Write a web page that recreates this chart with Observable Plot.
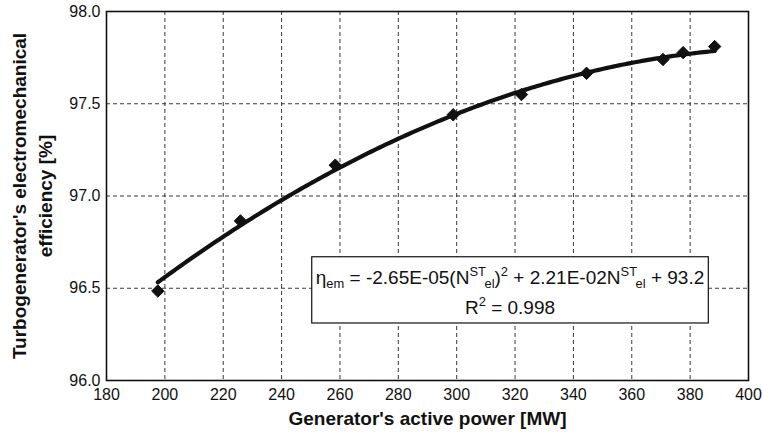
<!DOCTYPE html>
<html>
<head>
<meta charset="utf-8">
<script src="https://cdn.jsdelivr.net/npm/d3@7"></script>
<script src="https://cdn.jsdelivr.net/npm/@observablehq/plot@0.6"></script>
<style>
  body { margin: 0; background: #fff; }
  #chart svg { font-family: "Liberation Sans", Arial, Helvetica, sans-serif; }
</style>
</head>
<body>
<div id="chart"></div>
<script>
// Measured turbogenerator operating points
const powerMW = [197.6, 225.9, 258.4, 298.8, 322.2, 344.5, 370.7, 377.6, 388.4];
const efficiencyPct = [96.485, 96.865, 97.167, 97.44, 97.55, 97.665, 97.74, 97.777, 97.81];

// Axis ticks
const xTicks = [180, 200, 220, 240, 260, 280, 300, 320, 340, 360, 380, 400];
const yTicks = [96.0, 96.5, 97.0, 97.5, 98.0];

// Quadratic trend: eta = a*N^2 + b*N + c
const fitCoefficients = [-2.65e-5, 2.21e-2, 93.2];
const fitR2 = "0.998";

const xTitle = "Generator's active power [MW]";
const yTitle = "Turbogenerator's electromechanical\nefficiency [%]";

const points = powerMW.map((x, i) => ({x, y: efficiencyPct[i]}));

const [a, b, c] = fitCoefficients;
const xMin = d3.min(powerMW), xMax = d3.max(powerMW);
const trend = d3.range(xMin, xMax, 1).concat([xMax]).map(x => ({x, y: a * x * x + b * x + c}));

const gridDash = "4,3";

const chart = Plot.plot({
  width: 762,
  height: 438,
  marginLeft: 106,
  marginRight: 14,
  marginTop: 11,
  marginBottom: 58,
  x: {domain: [180, 400]},
  y: {domain: [96, 98]},
  marks: [
    Plot.gridX(xTicks.slice(1, -1), {stroke: "#222", strokeOpacity: 0.9, strokeDasharray: gridDash, strokeWidth: 1}),
    Plot.gridY(yTicks.slice(1, -1), {stroke: "#222", strokeOpacity: 0.9, strokeDasharray: gridDash, strokeWidth: 1}),
    Plot.axisX(xTicks, {tickSize: 0, tickPadding: 8, fontSize: 16, fill: "#111", label: null, tickFormat: d3.format("d")}),
    Plot.axisY(yTicks, {tickSize: 0, tickPadding: 6, fontSize: 16, fill: "#111", label: null, tickFormat: d3.format(".1f")}),
    Plot.line(trend, {x: "x", y: "y", stroke: "#111", strokeWidth: 4.2, curve: "linear"}),
    Plot.dot(points, {x: "x", y: "y", symbol: "diamond2", r: 5.6, fill: "#111", stroke: "#111", strokeWidth: 1}),
    Plot.frame({stroke: "#111", strokeWidth: 1.6}),
    Plot.text([xTitle], {frameAnchor: "bottom", dy: 38, lineAnchor: "middle", textAnchor: "middle", fontSize: 19, fontWeight: "bold", fill: "#111"}),
    Plot.text([yTitle], {frameAnchor: "left", dx: -76, rotate: -90, textAnchor: "middle", lineAnchor: "middle", fontSize: 19, fontWeight: "bold", fill: "#111", lineHeight: 1.37})
  ]
});

document.getElementById("chart").appendChild(chart);

// Equation box with the fitted trend
const sx = chart.scale("x"), sy = chart.scale("y");
const box = {x1: 250.5, x2: 386.4, y1: 96.668, y2: 96.309};
const svg = d3.select(chart);
const g = svg.append("g").attr("class", "equation");
const bx1 = sx.apply(box.x1), bx2 = sx.apply(box.x2);
const by1 = sy.apply(box.y1), by2 = sy.apply(box.y2);
g.append("rect")
  .attr("x", bx1).attr("y", by1)
  .attr("width", bx2 - bx1).attr("height", by2 - by1)
  .attr("fill", "#fff").attr("stroke", "#111").attr("stroke-width", 1.2);

const cx = (bx1 + bx2) / 2;
const fmtE = v => {
  const [m, e] = v.toExponential(2).split("e");
  const ei = +e;
  return m + "E" + (ei < 0 ? "-" : "+") + String(Math.abs(ei)).padStart(2, "0");
};
const line1 = [
  ["η", 0], ["em", -1], [" = " + fmtE(a) + "(N", 0], ["ST", 1], ["el", -1], [")", 0], ["2", 1],
  [" + " + fmtE(b) + "N", 0], ["ST", 1], ["el", -1], [" + " + c, 0]
];
const line2 = [["R", 0], ["2", 1], [" = " + fitR2, 0]];

function writeLine(segments, y) {
  const t = g.append("text")
    .attr("x", cx).attr("y", y)
    .attr("text-anchor", "middle")
    .attr("font-size", 19)
    .attr("fill", "#111");
  let level = 0;
  const shift = {0: 0, 1: -8, "-1": 4.5};
  for (const [s, lv] of segments) {
    const dy = shift[lv] - shift[level];
    t.append("tspan")
      .attr("dy", dy)
      .attr("font-size", lv === 0 ? "1em" : "0.68em")
      .text(s);
    level = lv;
  }
}
writeLine(line1, by1 + 27);
writeLine(line2, by1 + 57);
</script>
</body>
</html>
